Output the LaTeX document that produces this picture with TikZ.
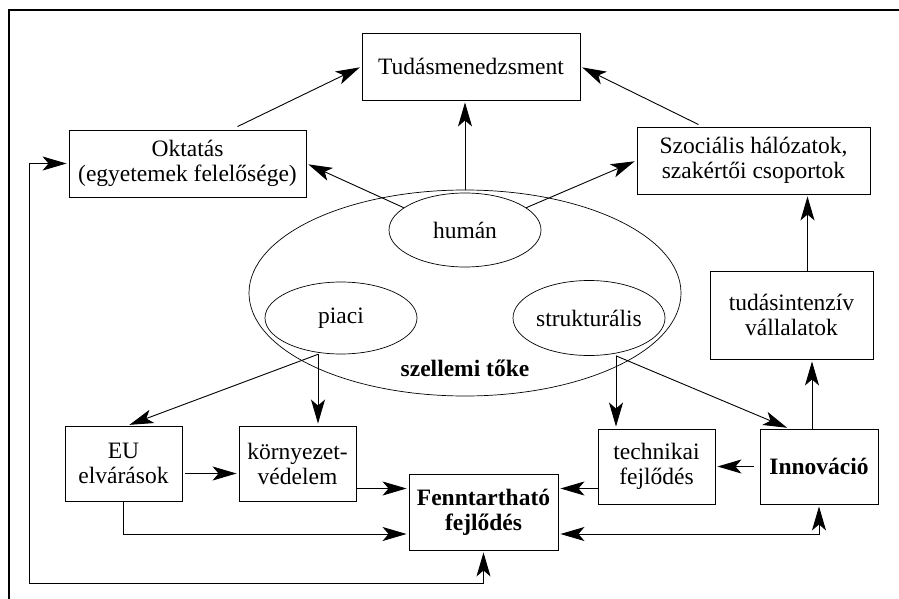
\documentclass[tikz,border=0pt]{standalone}
\usepackage{fontspec}
\setmainfont{Liberation Serif}
\usepackage{tikz}
\usetikzlibrary{arrows.meta,shapes.geometric,calc}
\tikzset{
	box/.style={draw, line width=0.9pt, inner sep=0pt, align=center, font=\fontsize{23.5}{25}\selectfont},
	oval/.style={draw, ellipse, line width=0.7pt, inner sep=0pt, font=\fontsize{23.5}{25}\selectfont},
	arr/.style={line width=0.9pt, -{Stealth[length=24pt,width=14pt,inset=6pt]}, shorten >=2pt},
	darr/.style={line width=0.9pt, {Stealth[length=24pt,width=14pt,inset=6pt]}-{Stealth[length=24pt,width=14pt,inset=6pt]}, shorten >=2pt, shorten <=2pt},
	frame/.style={line width=1.3pt}
}

\begin{document}
\begin{tikzpicture}[x=1pt,y=-1pt]
			%%%%% START %%%%%
			\useasboundingbox (0,0) rectangle (899,599);
			\draw[frame] (9,599) -- (9,10) -- (899,10);
			
			% szellemi toke
			\node[oval, minimum width=432pt, minimum height=206pt] (toke) at (465,293) {};
			\node[oval, minimum width=152pt, minimum height=74pt] (human) at (465,230) {humán};
			\node[oval, minimum width=152pt, minimum height=72pt] (piaci) at (341,318) {piaci};
			\node[oval, minimum width=152pt, minimum height=75pt] (strukt) at (589,318) {strukturális};
			\node[font=\fontsize{23.5}{25}\selectfont\bfseries] (tokelabel) at (465,368) {szellemi tőke};
			
			% boxes
			\node[box, minimum width=218pt, minimum height=67pt] (tudas) at (471,66.5) {Tudásmenedzsment};
			\node[box, minimum width=237pt, minimum height=67pt] (oktatas) at (187.5,163.5) {Oktatás\\(egyetemek felelősége)};
			\node[box, minimum width=233pt, minimum height=67pt] (szoc) at (753.5,160.5) {Szociális hálózatok,\\szakértői csoportok};
			\node[box, minimum width=163pt, minimum height=88pt] (tudint) at (791.5,315) {tudásintenzív\\vállalatok};
			\node[box, minimum width=117pt, minimum height=75pt] (eu) at (123.5,463.5) {EU\\elvárások};
			\node[box, minimum width=117pt, minimum height=75pt] (korny) at (297.5,463.5) {környezet-\\védelem};
			\node[box, minimum width=149pt, minimum height=76pt, font=\fontsize{23.5}{25}\selectfont\bfseries] (fennt) at (483.5,512) {Fenntartható\\fejlődés};
			\node[box, minimum width=117pt, minimum height=75pt] (techn) at (656.5,466.5) {technikai\\fejlődés};
			\node[box, minimum width=118pt, minimum height=75pt, font=\fontsize{23.5}{25}\selectfont\bfseries] (innov) at (819,466.5) {Innováció};
			
			\coordinate (pout) at ([xshift=-23pt]piaci.south);
			\coordinate (sout) at ([xshift=27pt]strukt.south);
			\coordinate (fb) at (29,583);
			
			% upper arrows
			\draw[arr] ([xshift=50pt,yshift=3pt]oktatas.north) -- (tudas.west);
			\draw[arr] (human.160) -- (oktatas.east);
			\draw[arr] (toke.north) -- (toke.north |- tudas.south);
			\draw[arr] (human.20) -- (szoc.west);
			\draw[arr] ([xshift=-55pt,yshift=2pt]szoc.north) -- (tudas.east);
			\draw[arr] ([xshift=16pt]tudint.north) -- ([xshift=16pt]tudint.north |- szoc.south);
			\draw[arr] ([xshift=-7pt]innov.north) -- ([xshift=-7pt]innov.north |- tudint.south);
			
			% lower arrows
			\draw[arr] (pout) -- ([xshift=4pt]eu.north);
			\draw[arr] (pout) -- (pout |- korny.north);
			\draw[arr] (sout) -- (sout |- techn.north);
			\draw[arr] (sout) -- ([xshift=-30pt]innov.north);
			\draw[arr] ([xshift=3pt,yshift=-10pt]eu.east) -- ([yshift=-10pt]korny.west);
			\draw[arr] ([yshift=-25pt]korny.east) -- ([yshift=-25pt]korny.east -| fennt.west);
			\draw[arr] (eu.south) |- ([yshift=-22pt]fennt.west);
			\draw[arr] ([yshift=-22pt]techn.west) -- ([yshift=-22pt]techn.west -| fennt.east);
			\draw[arr] ([xshift=-6pt]innov.west) -- (techn.east);
			\draw[darr] ([yshift=-22pt]fennt.east) -| (innov.south);
			\draw[darr] (oktatas.west) -| (fb) -| (fennt.south);
			
			%%%%% END %%%%%
\end{tikzpicture}
\end{document}
